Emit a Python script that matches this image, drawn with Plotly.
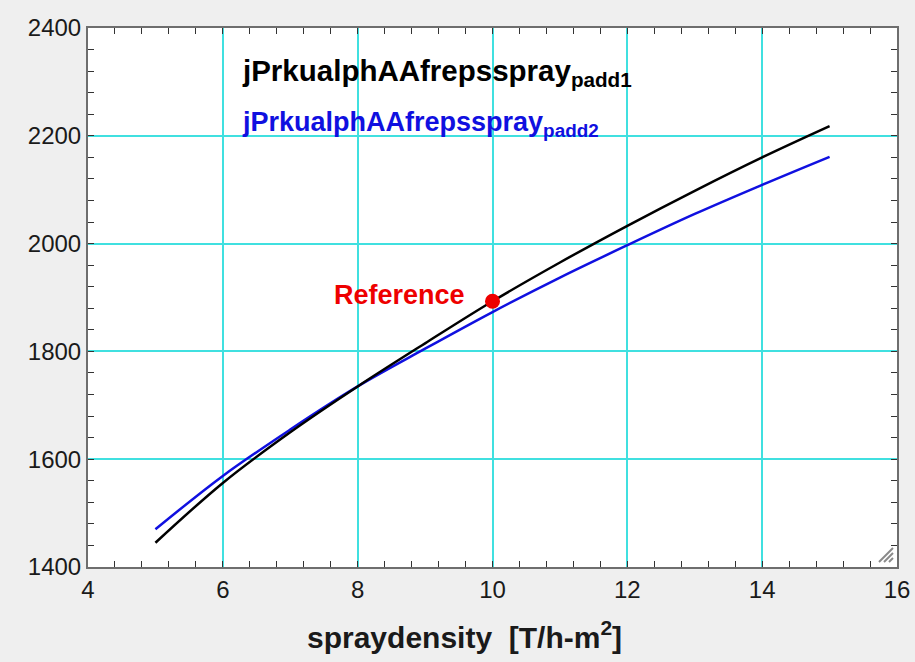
import plotly.graph_objects as go

spray = [5, 6, 7, 8, 9, 10, 11, 12, 13, 14, 15]
padd1 = [1445, 1556, 1650, 1735, 1815, 1893, 1965, 2033, 2098, 2160, 2218]
padd2 = [1470, 1569, 1655, 1735, 1805, 1873, 1937, 1997, 2055, 2109, 2161]
ref_x = [10]
ref_y = [1893]

FONT = "Arial, Liberation Sans, sans-serif"
GRID = "#40e0e0"

W, H = 915, 662
L, R, T, B = 88, 18, 28, 95
PW = W - L - R
PH = H - T - B


def px(xp):
    return (xp - L) / PW


def py(yp):
    return (H - B - yp) / PH


fig = go.Figure()
fig.add_trace(go.Scatter(x=spray, y=padd2, mode="lines", line=dict(color="#1010e0", width=2.5, shape="spline"),
                         showlegend=False, hoverinfo="skip"))
fig.add_trace(go.Scatter(x=spray, y=padd1, mode="lines", line=dict(color="black", width=2.5, shape="spline"),
                         showlegend=False, hoverinfo="skip"))
fig.add_trace(go.Scatter(x=ref_x, y=ref_y, mode="markers", marker=dict(color="#ee0000", size=15),
                         showlegend=False, hoverinfo="skip"))

fig.add_annotation(x=10, y=ref_y[0], xref="x", yref="y", text="<b>Reference</b>", showarrow=False,
                   xanchor="right", yanchor="middle", xshift=-26, yshift=6,
                   font=dict(family=FONT, size=27, color="#ee0000"))
fig.add_annotation(x=6.25, y=2318, xref="x", yref="y",
                   text="<b>jPrkualphAAfrepsspray<sub>padd1</sub></b>", showarrow=False,
                   xanchor="left", yanchor="middle", font=dict(family=FONT, size=29.5, color="black"))
fig.add_annotation(x=6.25, y=2222, xref="x", yref="y",
                   text="<b>jPrkualphAAfrepsspray<sub>padd2</sub></b>", showarrow=False,
                   xanchor="left", yanchor="middle", font=dict(family=FONT, size=27, color="#1010e0"))

# x-axis title (placed left of centre as in the reference)
fig.add_annotation(x=px(464), y=py(635), xref="paper", yref="paper",
                   text="<b>spraydensity  [T/h-m<sup>2</sup>]</b>", showarrow=False,
                   xanchor="center", yanchor="middle", font=dict(family=FONT, size=30, color="#1a1a1a"))

# resize grip (three diagonal strokes)
for (x0, y0, x1, y1) in [(879, 562, 893, 548), (884, 562, 893, 553), (889, 562, 893, 558)]:
    fig.add_shape(type="line", xref="paper", yref="paper",
                  x0=px(x0), y0=py(y0), x1=px(x1), y1=py(y1),
                  line=dict(color="#8a8a8a", width=2))

axis_common = dict(showline=True, linecolor="#6e6e6e", linewidth=2, mirror="allticks",
                   ticks="inside", ticklen=6, tickcolor="#333333", showgrid=True, gridcolor=GRID,
                   gridwidth=1.5, zeroline=False, tickfont=dict(family=FONT, size=24, color="#1a1a1a"))

fig.update_xaxes(range=[4, 16], dtick=2, tick0=4,
                 minor=dict(dtick=0.4, tick0=4, ticks="inside", ticklen=6, tickcolor="#333333", showgrid=False),
                 **axis_common)
fig.update_yaxes(range=[1400, 2400], dtick=200, tick0=1400,
                 minor=dict(dtick=40, tick0=1400, ticks="inside", ticklen=6, tickcolor="#333333", showgrid=False),
                 **axis_common)

fig.update_layout(width=W, height=H, margin=dict(l=L, r=R, t=T, b=B, autoexpand=False),
                  paper_bgcolor="#efefef", plot_bgcolor="white", font=dict(family=FONT))
fig.write_html("out.html", config={"displayModeBar": False},
               post_script="document.body.style.margin='0';document.body.style.overflow='hidden';")
